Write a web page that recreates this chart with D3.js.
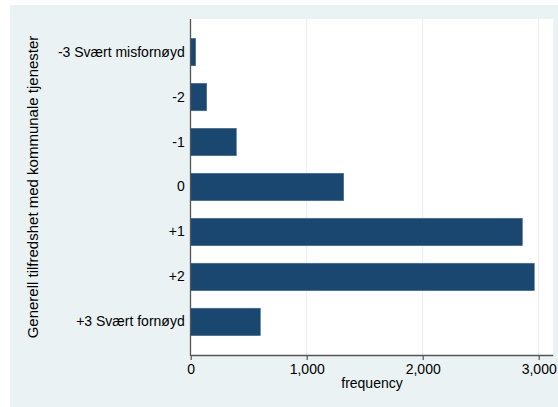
<!DOCTYPE html>
<html>
<head>
<meta charset="utf-8">
<script src="https://cdn.jsdelivr.net/npm/d3@7"></script>
<style>
  html, body { margin: 0; padding: 0; background: #ffffff; }
  svg { display: block; font-family: "Liberation Sans", Arial, Helvetica, sans-serif; }
</style>
</head>
<body>
<svg id="chart" width="558" height="407"></svg>
<script>
// Response categories, top to bottom
const categories = [
  "-3 Svært misfornøyd", "-2", "-1", "0", "+1", "+2", "+3 Svært fornøyd"
];
// Number of respondents per category
const frequencies = [43, 138, 393, 1319, 2859, 2962, 600];
// Tick values on the frequency axis
const xTicks = [0, 1000, 2000, 3000];

const yTitle = "Generell tilfredshet med kommunale tjenester";
const xTitle = "frequency";

const svg = d3.select("#chart");
const W = 558, H = 407;
const plot = { left: 190.7, right: 553.3, top: 19, bottom: 355 };

// Outer graph region
svg.append("rect")
  .attr("x", 10).attr("y", 5)
  .attr("width", W - 10).attr("height", H - 5)
  .attr("fill", "#eaf2f3");

// Plot region
svg.append("rect")
  .attr("x", plot.left).attr("y", plot.top)
  .attr("width", plot.right - plot.left).attr("height", plot.bottom - plot.top)
  .attr("fill", "#ffffff");

const x = d3.scaleLinear().domain([0, 3126]).range([plot.left, plot.right]);
const y = d3.scaleBand().domain(categories)
  .range([plot.top, plot.bottom])
  .paddingInner(0.39).paddingOuter(0.43);

// Vertical grid lines
svg.append("g").selectAll("line")
  .data(xTicks.filter(d => d > 0))
  .join("line")
  .attr("x1", d => x(d)).attr("x2", d => x(d))
  .attr("y1", plot.top).attr("y2", plot.bottom)
  .attr("stroke", "#e6eff1").attr("stroke-width", 1);

// Bars
svg.append("g").selectAll("rect")
  .data(categories)
  .join("rect")
  .attr("x", x(0))
  .attr("y", d => y(d))
  .attr("width", (d, i) => x(frequencies[i]) - x(0))
  .attr("height", y.bandwidth())
  .attr("fill", "#1a476f")
  .attr("stroke", "#4a6d8c")
  .attr("stroke-width", 0.6);

// Frequency axis
const xAxis = d3.axisBottom(x)
  .tickValues(xTicks)
  .tickFormat(d3.format(","))
  .tickSize(5)
  .tickSizeOuter(0)
  .tickPadding(4);
const gx = svg.append("g")
  .attr("transform", `translate(0,${plot.bottom})`)
  .call(xAxis);
gx.select(".domain")
  .attr("d", `M${plot.left},0.5H${plot.right}`)
  .attr("stroke", "#555555").attr("stroke-width", 1.3);
gx.selectAll(".tick line").attr("stroke", "#555555").attr("stroke-width", 1.2);
gx.selectAll(".tick text")
  .attr("fill", "#000000")
  .style("font-size", "14px")
  .style("font-family", "Liberation Sans, Arial, sans-serif");

// Category axis
const yAxis = d3.axisLeft(y).tickSize(0).tickPadding(6);
const gy = svg.append("g")
  .attr("transform", `translate(${plot.left},0)`)
  .call(yAxis);
gy.select(".domain")
  .attr("d", `M-0.2,${plot.top}V${plot.bottom + 1}`)
  .attr("stroke", "#555555").attr("stroke-width", 1.3);
gy.selectAll(".tick text")
  .attr("fill", "#000000")
  .style("font-size", "14px")
  .style("font-family", "Liberation Sans, Arial, sans-serif");

// Axis titles
svg.append("text")
  .attr("x", (plot.left + plot.right) / 2)
  .attr("y", 388)
  .attr("text-anchor", "middle")
  .style("font-size", "14px")
  .text(xTitle);

svg.append("text")
  .attr("transform", `translate(37.5,${(plot.top + plot.bottom) / 2}) rotate(-90)`)
  .attr("text-anchor", "middle")
  .style("font-size", "15px")
  .text(yTitle);
</script>
</body>
</html>
